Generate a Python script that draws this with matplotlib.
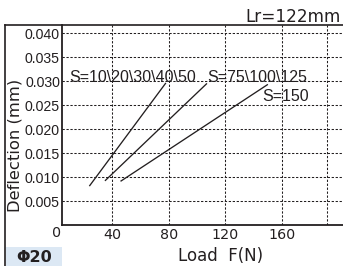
import matplotlib
matplotlib.use("Agg")
import matplotlib.pyplot as plt
from matplotlib.lines import Line2D
from matplotlib.patches import Rectangle

# ---- data ----
series_labels = ["S=10\\20\\30\\40\\50", "S=75\\100\\125", "S=150"]
series_x = [[24, 78], [35, 107], [46, 150]]
series_y = [[0.0081, 0.0296], [0.0092, 0.0295], [0.0091, 0.0293]]
label_pos = [(9.7, 0.0308), (106.9, 0.0308), (145.7, 0.0267)]
x_ticks = [40, 80, 120, 160]
x_grid_extra = [192]
y_ticks = [0.005, 0.010, 0.015, 0.020, 0.025, 0.030, 0.035, 0.040]
y_tick_labels = ["0.005", "0.010", "0.015", "0.020", "0.025", "0.030", "0.035", "0.040"]
title_text = "Lr=122mm"
badge_text = "\u03a620"

W, H = 343, 266
fig = plt.figure(figsize=(W / 100, H / 100), dpi=100)
fig.patch.set_facecolor("white")

def fx(px):
    return px / W

def fy(py):
    return 1 - py / H

ax_left, ax_top, ax_bottom, ax_right = 62, 25, 225, 343
ax = fig.add_axes([fx(ax_left), fy(ax_bottom), fx(ax_right - ax_left), (ax_bottom - ax_top) / H])
ax.set_xlim(4.7, 203)
ax.set_ylim(0, 0.04167)

ink = "#231f20"
for xv in x_ticks + x_grid_extra:
    ax.axvline(xv, color=ink, lw=0.75, dashes=(2.2, 1.6), zorder=1)
for yv in y_ticks:
    ax.axhline(yv, color=ink, lw=0.75, dashes=(2.2, 1.6), zorder=1)

for xs, ys in zip(series_x, series_y):
    ax.plot(xs, ys, color=ink, lw=0.95, zorder=3, solid_capstyle="butt")

for lab, (lx, ly) in zip(series_labels, label_pos):
    ax.text(lx, ly, lab, ha="left", va="center", fontsize=11.5,
            family="Liberation Sans", color=ink, zorder=4)

ax.set_xticks(x_ticks)
ax.set_xticklabels([str(v) for v in x_ticks], family="DejaVu Sans", fontsize=10.3, color=ink)
ax.set_yticks(y_ticks)
ax.set_yticklabels(y_tick_labels, family="Liberation Sans", fontsize=10.2, color=ink)
ax.tick_params(axis="both", length=0, pad=2.5)
ax.tick_params(axis="y", pad=1.5)

for s in ["top", "right"]:
    ax.spines[s].set_visible(False)
for s in ["left", "bottom"]:
    ax.spines[s].set_linewidth(1.3)
    ax.spines[s].set_color(ink)

# corner zero
fig.text(fx(57), fy(233), "0", ha="center", va="center", fontsize=10.3,
         family="DejaVu Sans", color=ink)

# axis labels
fig.text(fx(221), fy(256), "Load  F(N)", ha="center", va="center", fontsize=12,
         family="DejaVu Sans", color=ink)
fig.text(fx(15), fy(145), "Deflection (mm)", ha="center", va="center", rotation=90,
         fontsize=11.8, family="DejaVu Sans", color=ink)

# outer frame lines
fig.add_artist(Line2D([fx(5), fx(343)], [fy(25), fy(25)], color=ink, lw=1.2))
fig.add_artist(Line2D([fx(5), fx(5)], [fy(25), fy(266)], color=ink, lw=1.2))

# title
fig.text(fx(341), fy(21.5), title_text, ha="right", va="baseline", fontsize=12.2,
         family="DejaVu Sans", color=ink)

# badge
fig.add_artist(Rectangle((fx(5.5), 0), fx(56), (266 - 247) / H,
                         transform=fig.transFigure, facecolor="#dce8f4",
                         edgecolor="none", zorder=0))
fig.text(fx(34), fy(257), badge_text, ha="center", va="center", fontsize=11.5,
         family="DejaVu Sans", weight="bold", color=ink)

fig.savefig("out.png", dpi=100, facecolor="white")
